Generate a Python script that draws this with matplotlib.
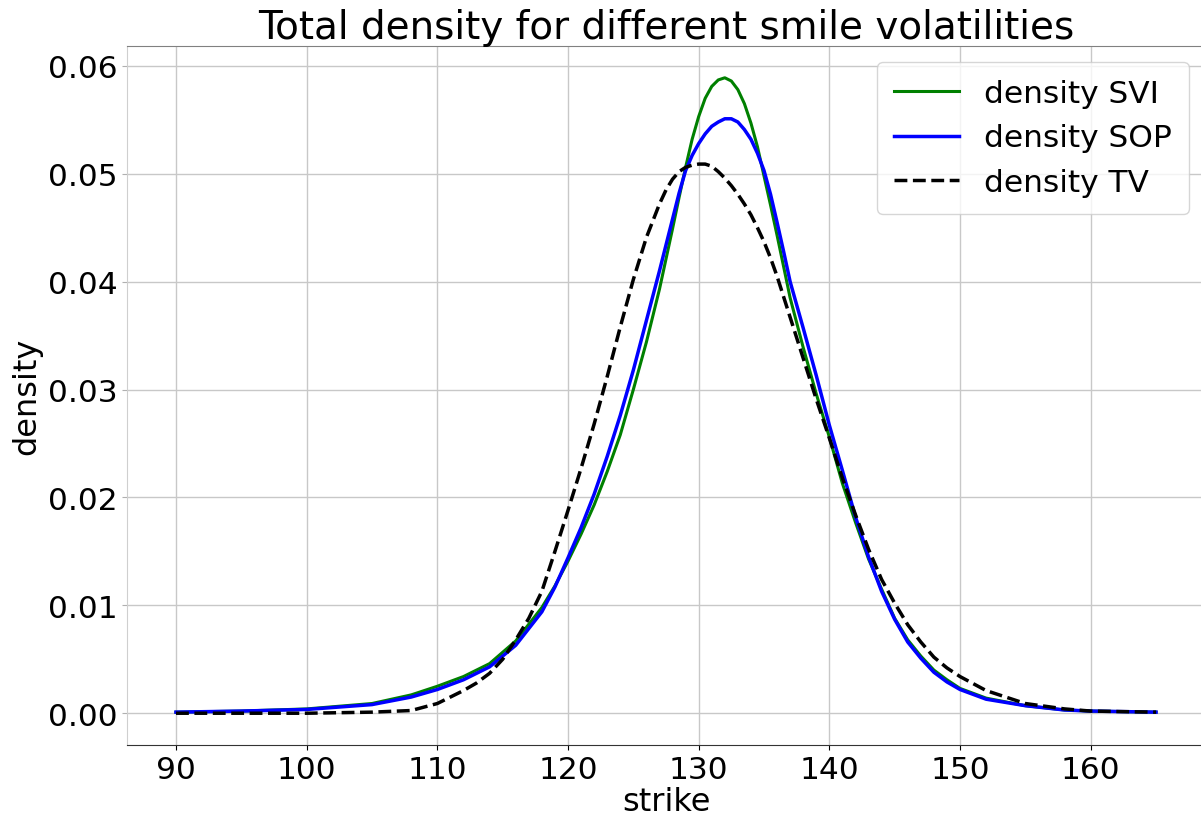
import matplotlib
matplotlib.use('Agg')
import matplotlib.pyplot as plt

# strike grid and densities
strike_svi = [90, 95, 100, 105, 108, 110, 112, 114, 116, 118, 119, 120, 121, 122, 123, 124, 125,
              126, 127, 127.5, 128, 128.5, 129, 129.5, 130, 130.5, 131, 131.5, 132, 132.5, 133,
              133.5, 134, 134.5, 135, 135.5, 136, 136.5, 137, 137.5, 138, 139, 140, 141, 142,
              143, 144, 145, 146, 147, 148, 149, 150, 152, 155, 158, 160, 165]
density_svi = [0.0001, 0.0002, 0.0004, 0.0009, 0.0017, 0.0025, 0.0034, 0.0046, 0.0067, 0.0098,
               0.0118, 0.0141, 0.0166, 0.0193, 0.0224, 0.0258, 0.0300, 0.0344, 0.0393, 0.0421,
               0.0449, 0.0478, 0.0506, 0.0532, 0.0553, 0.0570, 0.0581, 0.0587, 0.0589, 0.0586,
               0.0578, 0.0565, 0.0547, 0.0525, 0.0498, 0.0471, 0.0443, 0.0414, 0.0385, 0.0362,
               0.0339, 0.0296, 0.0256, 0.0213, 0.0177, 0.0143, 0.0115, 0.0088, 0.0068, 0.0053,
               0.0040, 0.0031, 0.0023, 0.0014, 0.0007, 0.0003, 0.0002, 0.0001]

strike_sop = [90, 95, 100, 105, 108, 110, 112, 114, 116, 118, 119, 120, 121, 122, 123, 124, 125,
              126, 127, 128, 128.5, 129, 129.5, 130, 130.5, 131, 131.5, 132, 132.5, 133, 133.5,
              134, 134.5, 135, 135.5, 136, 136.5, 137, 138, 139, 140, 141, 142, 143, 144, 145,
              146, 147, 148, 149, 150, 152, 155, 158, 160, 165]
density_sop = [0.0001, 0.0002, 0.00035, 0.0008, 0.0015, 0.0022, 0.0031, 0.0043, 0.0063, 0.0094,
               0.0117, 0.0144, 0.0172, 0.0203, 0.0238, 0.0276, 0.0318, 0.0364, 0.0410, 0.0458,
               0.0482, 0.0503, 0.0517, 0.0528, 0.0537, 0.0544, 0.0548, 0.0551, 0.0551, 0.0548,
               0.0541, 0.0532, 0.0519, 0.0503, 0.0481, 0.0455, 0.0428, 0.0400, 0.0357, 0.0313,
               0.0267, 0.0225, 0.0182, 0.0145, 0.0113, 0.0087, 0.0066, 0.0051, 0.0038, 0.0029,
               0.0022, 0.0013, 0.0007, 0.0003, 0.0002, 0.0001]

strike_tv = [90, 95, 100, 105, 108, 110, 112, 113, 114, 115, 116, 117, 118, 119, 120, 121, 122,
             123, 124, 125, 126, 127, 127.5, 128, 128.5, 129, 129.5, 130, 130.5, 131, 131.5, 132,
             132.5, 133, 133.5, 134, 134.5, 135, 135.5, 136, 136.5, 137, 137.5, 138, 139, 140,
             141, 142, 143, 144, 145, 146, 147, 148, 149, 150, 152, 155, 158, 160, 165]
density_tv = [0.0, 0.0, 0.0, 0.0001, 0.00025, 0.0009, 0.0021, 0.0028, 0.0037, 0.0050, 0.0068,
              0.0088, 0.0113, 0.0150, 0.0188, 0.0227, 0.0268, 0.0312, 0.0358, 0.0402, 0.0441,
              0.0472, 0.0485, 0.0495, 0.0502, 0.0506, 0.0508, 0.0509, 0.0509, 0.0507, 0.0502,
              0.0496, 0.0489, 0.0481, 0.0472, 0.0462, 0.0450, 0.0437, 0.0422, 0.0405, 0.0386,
              0.0367, 0.0348, 0.0329, 0.0291, 0.0255, 0.0218, 0.0184, 0.0152, 0.0124, 0.0102,
              0.0082, 0.0066, 0.0052, 0.0042, 0.0034, 0.0021, 0.0009, 0.0004, 0.0002, 0.0001]

fig = plt.figure(figsize=(12.01, 8.20), dpi=100)
ax = fig.add_axes([127 / 1201, 74 / 820, 1078 / 1201, 699 / 820])

ax.plot(strike_svi, density_svi, color='green', lw=2.2, label='density SVI')
ax.plot(strike_sop, density_sop, color='blue', lw=2.5, label='density SOP')
ax.plot(strike_tv, density_tv, color='black', lw=2.5, ls='--', label='density TV')

ax.grid(True, color='#c8c8c8', lw=1)
ax.set_axisbelow(True)
ax.set_title('Total density for different smile volatilities', fontsize=28)
ax.set_xlabel('strike', fontsize=23, labelpad=2)
ax.set_ylabel('density', fontsize=23)
ax.tick_params(labelsize=22.5)
ax.tick_params(axis='y', color='#b0b0b0')
ax.set_xticks(range(90, 161, 10))
ax.set_yticks([0.0, 0.01, 0.02, 0.03, 0.04, 0.05, 0.06])

ax.spines['top'].set_color('#808080')
ax.spines['left'].set_color('#cfcfcf')
ax.spines['right'].set_visible(False)
ax.spines['bottom'].set_color('#333333')

ax.legend(loc='upper right', fontsize=22.5, handlelength=2.1, labelspacing=0.5, borderpad=0.55)

plt.savefig('out.png', dpi=100)
